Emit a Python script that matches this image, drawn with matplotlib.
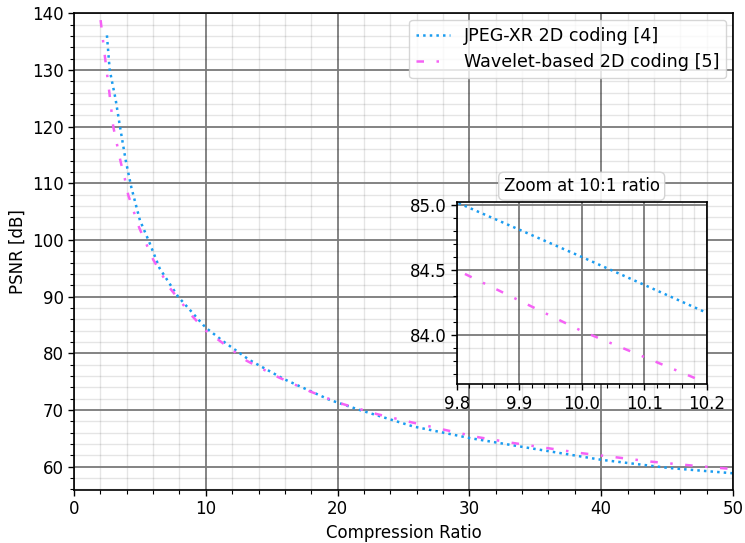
import matplotlib
matplotlib.use("Agg")
import matplotlib.pyplot as plt
from matplotlib.ticker import MultipleLocator, AutoMinorLocator

# JPEG-XR 2D coding [4]
jpeg_cr = [2.5, 2.71, 3.16, 3.49, 3.92, 4.35, 5.0, 5.7, 6.5, 7.9, 8.9, 9.8, 10.0, 10.2,
           11.4, 13.3, 15.9, 19.4, 21.7, 25.75, 30.05, 34.3, 40.0, 45.2, 50.0]
jpeg_psnr = [136.1, 130.0, 124.8, 120.0, 114.1, 109.3, 103.5, 99.7, 95.0, 90.0, 87.4, 85.02, 84.60, 84.17,
             82.0, 78.85, 75.5, 71.8, 70.0, 67.1, 65.05, 63.4, 61.23, 59.77, 58.85]

# Wavelet-based 2D coding [5]
wav_cr = [2.02, 2.35, 2.68, 2.98, 3.54, 3.85, 4.12, 4.96, 6.02, 7.28, 9.0, 9.8, 10.0, 10.2,
          10.95, 13.1, 15.5, 17.9, 20.2, 22.97, 25.5, 28.15, 30.7, 33.3, 35.9, 38.5, 41.2, 43.8, 46.5, 49.1, 50.0]
wav_psnr = [138.8, 132.3, 126.1, 120.0, 113.8, 110.9, 107.9, 102.1, 96.5, 91.5, 86.5, 84.50, 84.03, 83.63,
            82.4, 78.7, 75.8, 73.3, 71.2, 69.3, 67.9, 66.5, 65.2, 64.2, 63.3, 62.4, 61.65, 60.9, 60.3, 59.77, 59.6]

labels = ["JPEG-XR 2D coding [4]", "Wavelet-based 2D coding [5]"]
xlabel = "Compression Ratio"
ylabel = "PSNR [dB]"
inset_title = "Zoom at 10:1 ratio"

BLUE = "#1a9cf0"
PINK = "#f562f5"
LW = 1.8

fig = plt.figure(figsize=(7.45, 5.43), dpi=100)
ax = fig.add_axes([0.0993, 0.0976, 0.9839 - 0.0993, 0.9766 - 0.0976])


def style(a, fs):
    a.grid(which="major", color="#7a7a7a", linewidth=1.3)
    a.grid(which="minor", color="black", alpha=0.1, linewidth=1.0)
    a.set_axisbelow(True)
    a.tick_params(which="major", direction="out", length=4, width=1, labelsize=fs)
    a.tick_params(which="minor", direction="out", length=3, width=0.8)
    for s in a.spines.values():
        s.set_linewidth(1.2)
        s.set_color("black")


def draw(a):
    l1, = a.plot(jpeg_cr, jpeg_psnr, color=BLUE, linestyle=":", linewidth=LW, label=labels[0])
    l2, = a.plot(wav_cr, wav_psnr, color=PINK, linewidth=LW, label=labels[1])
    l2.set_dashes([3, 5, 1, 5])
    return l1, l2


draw(ax)
ax.set_xlim(0, 50)
ax.set_ylim(55.9, 140.1)
ax.xaxis.set_major_locator(MultipleLocator(10))
ax.xaxis.set_minor_locator(MultipleLocator(2))
ax.yaxis.set_major_locator(MultipleLocator(10))
ax.yaxis.set_minor_locator(MultipleLocator(2))
style(ax, 12)
ax.set_xlabel(xlabel, fontsize=12)
ax.set_ylabel(ylabel, fontsize=12)
ax.legend(loc="upper right", fontsize=12.6, framealpha=0.8, edgecolor="#cccccc",
          handlelength=1.9, borderaxespad=0.4)

ins = fig.add_axes([0.613, 0.2923, 0.3356, 0.3351])
draw(ins)
ins.set_xlim(9.8, 10.2)
ins.set_ylim(83.62, 85.02)
ins.xaxis.set_major_locator(MultipleLocator(0.1))
ins.xaxis.set_minor_locator(AutoMinorLocator())
ins.yaxis.set_major_locator(MultipleLocator(0.5))
ins.yaxis.set_minor_locator(AutoMinorLocator())
ins.set_facecolor("white")
style(ins, 12)
ins.set_title(inset_title, fontsize=12, pad=8,
              bbox=dict(boxstyle="round,pad=0.3", fc="white", ec="#d0d0d0", alpha=0.9))

fig.savefig("out.png", dpi=100)
